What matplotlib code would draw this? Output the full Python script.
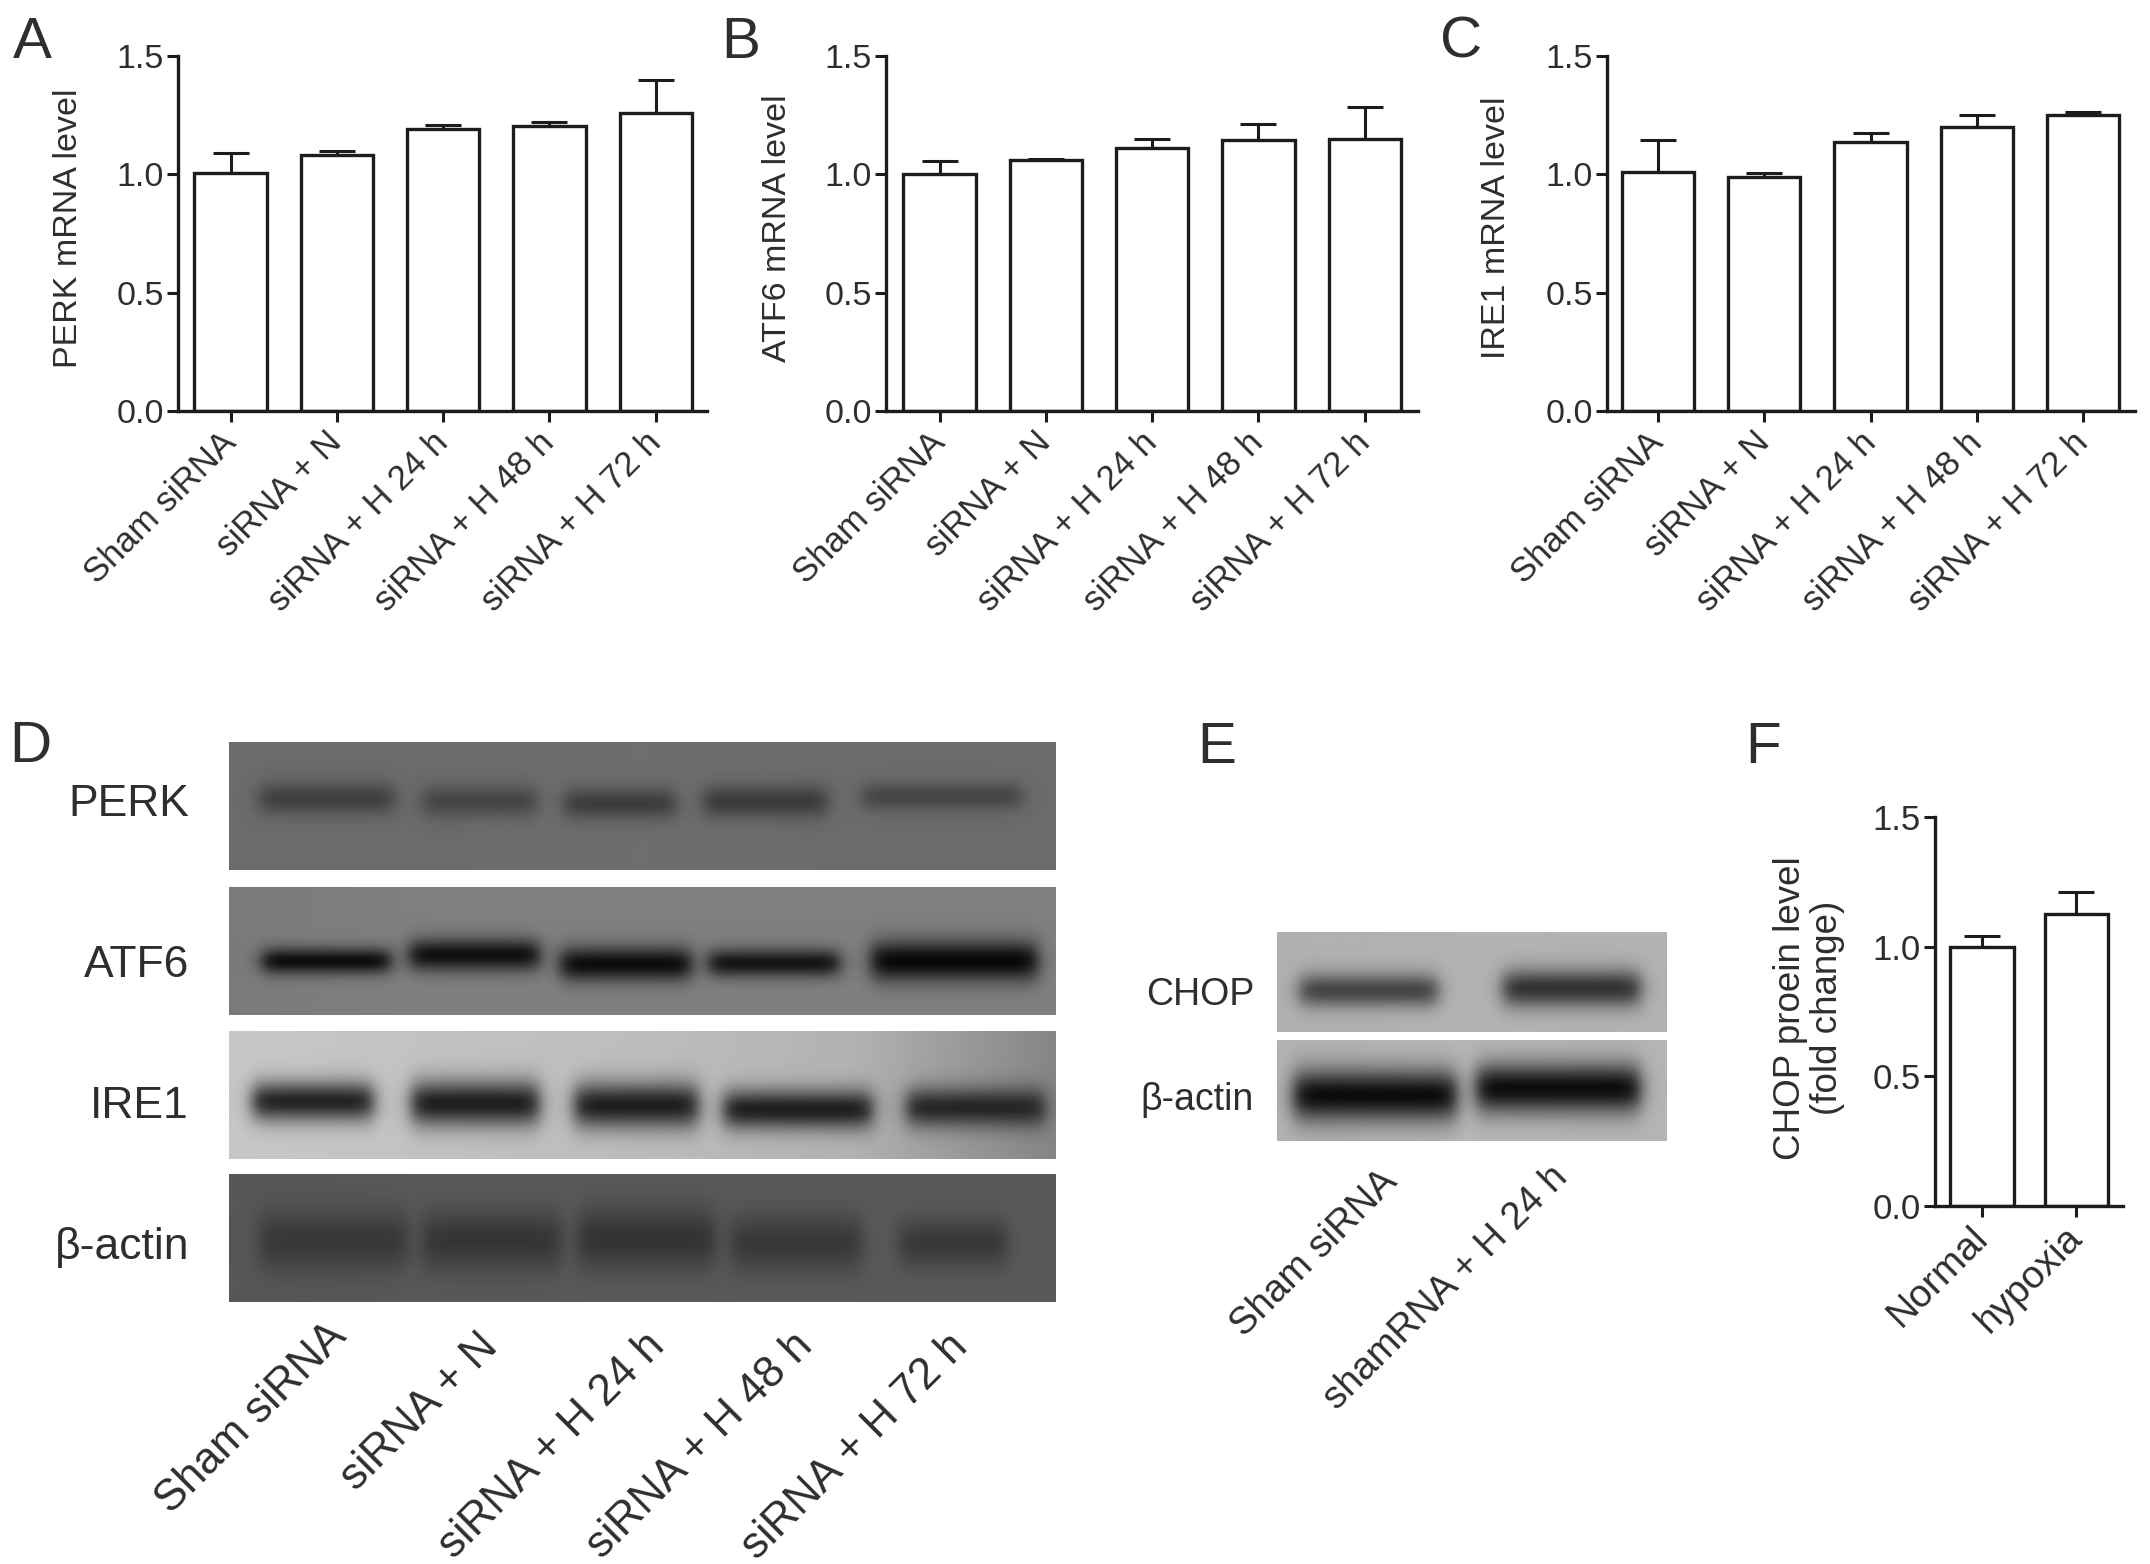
"""Bar charts of ER stress markers with western blot panels."""
import numpy as np
import matplotlib
matplotlib.use("Agg")
import matplotlib.pyplot as plt

W, H = 2150, 1564
INK = "#1c1c1c"
TXT = "#2e2e2e"

GROUPS = ["Sham siRNA", "siRNA + N", "siRNA + H 24 h", "siRNA + H 48 h", "siRNA + H 72 h"]
PERK_MEAN = [1.007, 1.08, 1.193, 1.203, 1.258]
PERK_TOP = [1.09, 1.10, 1.21, 1.22, 1.40]
ATF6_MEAN = [1.00, 1.062, 1.112, 1.146, 1.151]
ATF6_TOP = [1.057, 1.064, 1.149, 1.211, 1.285]
IRE1_MEAN = [1.008, 0.99, 1.138, 1.20, 1.252]
IRE1_TOP = [1.146, 1.007, 1.176, 1.25, 1.262]
CHOP_GROUPS = ["Normal", "hypoxia"]
CHOP_MEAN = [0.998, 1.126]
CHOP_TOP = [1.04, 1.21]
YTICKS = [0.0, 0.5, 1.0, 1.5]

# blot bands: lane start, lane end, band centre, half height, darkness (all blot pixels)
PERK_BANDS = [(30, 165, 56, 16, 0.25), (193, 307, 59, 16, 0.27), (335, 446, 61, 16, 0.24),
              (474, 598, 59, 16, 0.23), (633, 792, 54, 14, 0.27)]
ATF6_BANDS = [(33, 161, 74, 13, 0.05), (180, 310, 68, 16, 0.06), (331, 462, 77, 17, 0.05),
              (479, 610, 76, 14, 0.08), (642, 808, 74, 20, 0.03)]
IRE1_BANDS = [(23, 144, 70, 20, 0.14), (182, 310, 72, 23, 0.12), (345, 469, 74, 23, 0.12),
              (494, 643, 78, 20, 0.12), (677, 816, 76, 20, 0.15)]
ACTIN_BANDS = [(30, 179, 67, 30, 0.22), (193, 332, 67, 30, 0.21), (348, 486, 65, 30, 0.20),
               (501, 633, 69, 28, 0.22), (670, 778, 69, 24, 0.22)]
CHOP_BANDS = [(22, 160, 58, 17, 0.27), (225, 362, 56, 19, 0.20)]
ACTIN2_BANDS = [(16, 179, 55, 26, 0.05), (198, 362, 48, 25, 0.05)]

# background grey across each blot
PERK_BG = [0.42, 0.42, 0.43, 0.42, 0.42]
ATF6_BG = [0.48, 0.50, 0.50, 0.50, 0.50]
IRE1_BG = [0.78, 0.76, 0.74, 0.70, 0.52]
ACTIN_BG = [0.34, 0.35, 0.35, 0.35, 0.35]
CHOP_BG = [0.69, 0.70, 0.70]
ACTIN2_BG = [0.70, 0.72, 0.71]

plt.rcParams["font.family"] = ["Liberation Sans", "DejaVu Sans"]
plt.rcParams["text.color"] = TXT

fig = plt.figure(figsize=(W / 100, H / 100), dpi=100, facecolor="white")


def box(left, right, top, bottom):
    return [left / W, 1 - bottom / H, (right - left) / W, (bottom - top) / H]


def label(x, y, s, size, **kw):
    fig.text(x / W, 1 - y / H, s, fontsize=size, **kw)


def bar_panel(rect, first, step, names, means, tops, size, xsize, bw):
    left, right, top, bottom = rect
    ax = fig.add_axes(box(left, right, top, bottom))
    x = np.arange(len(means))
    ax.bar(x, means, width=bw, facecolor="white", edgecolor=INK, linewidth=2.4, zorder=2)
    up = np.array(tops) - np.array(means)
    ax.errorbar(x, means, yerr=[np.zeros(len(up)), up], fmt="none", ecolor=INK,
                elinewidth=2.2, capsize=13, capthick=2.2, zorder=1)
    ax.set_xlim((left - first) / step, (right - first) / step)
    ax.set_ylim(0, 1.5)
    ax.set_yticks(YTICKS)
    ax.set_yticklabels([f"{v:.1f}" for v in YTICKS], fontsize=size, color=TXT)
    ax.set_xticks(x)
    ax.set_xticklabels(names, fontsize=xsize, color=TXT, rotation=45, ha="right", va="center",
                       rotation_mode="anchor")
    ax.tick_params(axis="x", length=8, width=2.2, color=INK, pad=11)
    ax.tick_params(axis="y", length=8, width=2.2, color=INK, pad=2)
    ax.patch.set_alpha(0)
    for side in ["top", "right"]:
        ax.spines[side].set_visible(False)
    for side in ["left", "bottom"]:
        ax.spines[side].set_linewidth(2.4)
        ax.spines[side].set_color(INK)
    return ax


def blot(rect, bands, bg):
    left, right, top, bottom = rect
    w, h = right - left, bottom - top
    xx, yy = np.meshgrid(np.arange(w), np.arange(h))
    img = np.interp(xx, np.linspace(0, w, len(bg)), bg)
    for x0, x1, yc, half, dark in bands:
        across = 0.5 * (np.tanh((xx - x0) / 10) - np.tanh((xx - x1) / 10))
        down = np.exp(-((yy - yc) / half) ** 2)
        img = img + (dark - img) * across * down
    ax = fig.add_axes(box(left, right, top, bottom))
    ax.imshow(img, cmap="gray", vmin=0, vmax=1, aspect="auto", interpolation="bilinear")
    ax.axis("off")


bar_panel((178, 707, 56, 411), 230.5, 106.3, GROUPS, PERK_MEAN, PERK_TOP, 24.5, 25, 0.68)
bar_panel((886, 1418, 56, 411), 939.5, 106.3, GROUPS, ATF6_MEAN, ATF6_TOP, 24.5, 25, 0.68)
bar_panel((1607, 2135, 56, 411), 1658, 106.3, GROUPS, IRE1_MEAN, IRE1_TOP, 24.5, 25, 0.68)
bar_panel((1935, 2123, 817, 1206), 1982, 94.3, CHOP_GROUPS, CHOP_MEAN, CHOP_TOP, 25, 28, 0.67)

blot((229, 1056, 742, 870), PERK_BANDS, PERK_BG)
blot((229, 1056, 887, 1015), ATF6_BANDS, ATF6_BG)
blot((229, 1056, 1031, 1159), IRE1_BANDS, IRE1_BG)
blot((229, 1056, 1174, 1302), ACTIN_BANDS, ACTIN_BG)
blot((1277, 1666, 932, 1032), CHOP_BANDS, CHOP_BG)
blot((1277, 1666, 1040, 1141), ACTIN2_BANDS, ACTIN2_BG)

# panel letters
for s, x, y in [("A", 13, 58), ("B", 721, 58), ("C", 1440, 58),
                ("D", 9, 762), ("E", 1197, 763), ("F", 1745, 763)]:
    label(x, y, s, 42, ha="left", va="baseline")

# axis titles
label(69, 228, "PERK mRNA level", 24.5, rotation=90, ha="center", va="center")
label(778, 228, "ATF6 mRNA level", 24.5, rotation=90, ha="center", va="center")
label(1497, 228, "IRE1 mRNA level", 24.5, rotation=90, ha="center", va="center")
label(1809, 1008, "CHOP proein level\n(fold change)", 26.5, rotation=90, ha="center", va="center",
      linespacing=1.1)

# blot row labels
for s, y in [("PERK", 805), ("ATF6", 965), ("IRE1", 1107), ("β-actin", 1247)]:
    label(189, y, s, 32, ha="right", va="center")
label(1254, 995, "CHOP", 27, ha="right", va="center")
label(1254, 1100, "β-actin", 27, ha="right", va="center")

# blot lane labels
for s, x, y in zip(GROUPS, [340, 491, 658, 806, 961], [1330, 1340, 1340, 1340, 1340]):
    label(x, y, s, 31.5, rotation=45, ha="right", va="center", rotation_mode="anchor")
for s, x, y in zip(["Sham siRNA", "shamRNA + H 24 h"], [1392, 1562], [1176, 1172]):
    label(x, y, s, 27.5, rotation=45, ha="right", va="center", rotation_mode="anchor")

fig.savefig("out.png", dpi=100, facecolor="white")
